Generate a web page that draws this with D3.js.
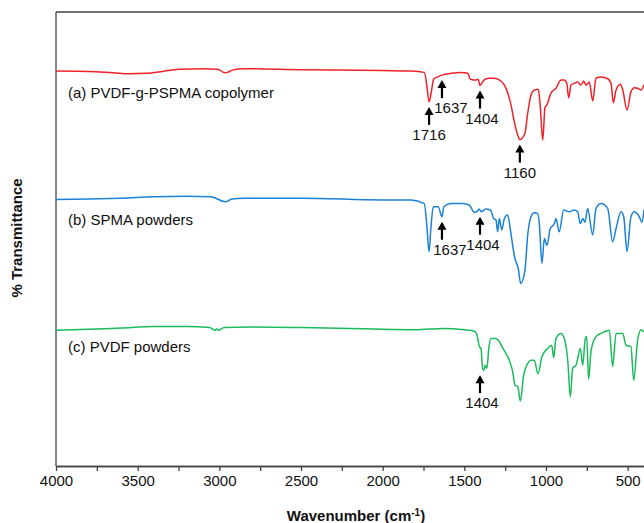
<!doctype html>
<html lang="en">
  <head>
    <meta charset="UTF-8" />
    <title>FTIR spectra</title>
    <script src="https://unpkg.com/d3@7.9.0/dist/d3.min.js"></script>
    <style>
      body {
        margin: 0;
        overflow: hidden;
        background: #fff;
        font-family: Arial, 'Liberation Sans', sans-serif;
      }
      .tick text {
        font-size: 15px;
        fill: #111;
      }
      .tick line,
      .domain {
        stroke: #444;
        stroke-width: 1.3px;
      }
      .axis-title {
        font-size: 15px;
        font-weight: bold;
        fill: #111;
      }
      .series-label,
      .peak-label {
        font-size: 15px;
        fill: #111;
      }
    </style>
  </head>
  <body>
    <svg width="644" height="523"></svg>

    <script>
      // x axis ticks (cm-1)
      const majorTicks = [4000, 3500, 3000, 2500, 2000, 1500, 1000, 500];
      const minorTicks = [3750, 3250, 2750, 2250, 1750, 1250, 750];

      const seriesNames = [
        '(a) PVDF-g-PSPMA copolymer',
        '(b) SPMA powders',
        '(c) PVDF powders',
      ];
      const seriesColors = ['#ee2229', '#1b82d6', '#1bbb5c'];
      // vertical stacking offsets (a.u.)
      const seriesOffsets = [57, 29, 0];

      // [wavenumber, transmittance a.u.]
      const pvdfGPspma = [
        [4000, 30.0], [3800, 29.9], [3650, 29.6], [3550, 29.4], [3450, 29.5],
        [3350, 29.9], [3250, 30.4], [3100, 30.5], [3010, 30.4], [2965, 29.6],
        [2950, 29.7], [2920, 30.2], [2850, 30.5], [2500, 30.3], [2000, 30.1],
        [1826, 30.0], [1745, 29.7], [1730, 26.9], [1716, 23.2], [1702, 25.4],
        [1688, 28.2], [1665, 28.7], [1637, 29.1], [1582, 29.5], [1520, 29.7],
        [1479, 29.5], [1463, 28.2], [1429, 28.0], [1415, 28.2], [1404, 26.8],
        [1380, 28.0], [1353, 28.4], [1317, 28.4], [1276, 27.8], [1245, 26.2],
        [1214, 22.5], [1194, 18.8], [1173, 15.9], [1160, 14.9], [1129, 16.3],
        [1112, 20.7], [1092, 24.7], [1072, 25.8], [1047, 26.0], [1035, 22.1],
        [1020, 14.8], [1006, 22.0], [994, 22.6], [969, 25.2], [939, 26.2],
        [908, 28.0], [888, 28.0], [873, 27.3], [861, 24.1], [847, 26.9],
        [827, 27.3], [806, 27.6], [786, 26.9], [769, 27.8], [755, 26.9],
        [735, 27.6], [714, 23.4], [694, 28.4], [663, 28.7], [622, 28.3],
        [602, 27.3], [588, 23.0], [571, 25.8], [545, 27.1], [530, 25.8],
        [504, 21.4], [480, 25.4], [459, 26.3], [439, 26.2], [418, 25.8],
        [400, 27.0],
      ];
      const spmaPowders = [
        [4000, 29.7], [3800, 29.8], [3600, 30.0], [3400, 30.3], [3200, 30.4],
        [3050, 30.3], [2965, 29.2], [2950, 29.3], [2925, 29.8], [2850, 30.0],
        [2500, 30.0], [2000, 29.6], [1826, 29.6], [1745, 28.8], [1730, 24.1],
        [1716, 18.2], [1705, 23.3], [1690, 28.1], [1660, 28.1], [1637, 25.9],
        [1625, 28.1], [1582, 28.8], [1520, 28.8], [1470, 28.5], [1440, 26.9],
        [1420, 27.1], [1410, 27.6], [1395, 27.0], [1370, 27.6], [1340, 27.4],
        [1320, 25.5], [1306, 25.2], [1296, 22.6], [1286, 25.5], [1271, 23.0],
        [1255, 25.5], [1235, 26.3], [1219, 23.3], [1204, 19.6], [1190, 16.7],
        [1170, 14.5], [1155, 11.2], [1129, 14.1], [1112, 21.9], [1092, 25.9],
        [1072, 26.8], [1051, 26.6], [1041, 24.4], [1025, 15.6], [1010, 21.1],
        [994, 19.6], [974, 23.3], [949, 24.4], [939, 25.5], [919, 22.6],
        [892, 27.4], [857, 27.0], [827, 27.4], [806, 27.0], [790, 24.4],
        [775, 25.5], [761, 24.7], [745, 27.7], [714, 21.9], [694, 27.7],
        [663, 28.8], [622, 27.7], [592, 20.4], [571, 23.3], [541, 27.0],
        [524, 25.9], [504, 18.2], [480, 25.9], [459, 27.0], [429, 25.9],
        [412, 24.7], [400, 27.4],
      ];
      const pvdfPowders = [
        [4000, 29.9], [3800, 30.1], [3600, 30.4], [3400, 30.7], [3200, 30.7],
        [3060, 30.5], [3025, 29.9], [3015, 30.2], [3005, 29.9], [2970, 30.5],
        [2800, 30.6], [2500, 30.5], [2200, 30.3], [2000, 30.1], [1800, 30.0],
        [1623, 30.3], [1500, 30.0], [1439, 29.7], [1422, 28.8], [1408, 26.3],
        [1398, 25.9], [1388, 21.5], [1380, 21.1], [1372, 22.2], [1362, 21.5],
        [1350, 26.0], [1337, 28.1], [1306, 28.1], [1286, 27.4], [1265, 26.0],
        [1245, 24.8], [1225, 23.3], [1204, 20.8], [1190, 17.8], [1173, 17.5],
        [1157, 14.3], [1137, 20.0], [1112, 22.6], [1092, 23.3], [1072, 23.3],
        [1049, 20.3], [1025, 24.1], [990, 25.9], [965, 26.6], [953, 23.9],
        [939, 28.1], [908, 29.2], [888, 28.1], [867, 23.3], [851, 15.2],
        [837, 21.5], [816, 22.2], [790, 25.9], [775, 22.2], [761, 27.7],
        [751, 28.5], [739, 19.1], [724, 25.4], [694, 28.5], [663, 29.2],
        [612, 29.9], [592, 21.9], [571, 29.2], [530, 29.2], [510, 26.6],
        [480, 26.3], [463, 18.9], [439, 27.7], [418, 30.0], [400, 29.5],
      ];
      const spectra = [pvdfGPspma, spmaPowders, pvdfPowders];

      // peak annotations: series index, wavenumber
      const peakSeries = [0, 0, 0, 0, 1, 1, 2];
      const peakWavenumbers = [1716, 1637, 1404, 1160, 1637, 1404, 1404];

      // layout
      const peakLabelDx = [0, 9, 2, 0, 8, 3, 2];
      const seriesLabelDy = [27, 25, 22];

      const svg = d3.select('svg');
      const plotLeft = 56,
        plotRight = 644,
        plotTop = 12,
        plotBottom = 466;

      const x = d3
        .scaleLinear()
        .domain([4000, 400])
        .range([plotLeft, plotRight]);
      const y = d3
        .scaleLinear()
        .domain([0, 100])
        .range([plotBottom, plotTop]);

      // frame
      svg
        .append('line')
        .attr('x1', x(4000))
        .attr('x2', plotRight)
        .attr('y1', plotTop)
        .attr('y2', plotTop)
        .attr('stroke', '#444')
        .attr('stroke-width', 1.3);
      svg
        .append('line')
        .attr('x1', x(4000))
        .attr('x2', x(4000))
        .attr('y1', plotTop)
        .attr('y2', plotBottom)
        .attr('stroke', '#444')
        .attr('stroke-width', 1.3);

      svg
        .append('g')
        .attr('transform', `translate(0,${plotBottom})`)
        .call(
          d3
            .axisBottom(x)
            .tickValues(minorTicks)
            .tickSize(5)
            .tickSizeOuter(0)
            .tickFormat(''),
        );
      svg
        .append('g')
        .attr('transform', `translate(0,${plotBottom})`)
        .call(
          d3
            .axisBottom(x)
            .tickValues(majorTicks)
            .tickSize(5)
            .tickPadding(4)
            .tickSizeOuter(0)
            .tickFormat(d3.format('d')),
        )
        .call((g) => g.attr('font-family', null).attr('font-size', null));

      // spectra
      const line = d3
        .line()
        .x((d) => x(d[0]))
        .y((d) => y(d[1]))
        .curve(d3.curveMonotoneX);

      spectra.forEach((data, i) => {
        const shifted = data.map((d) => [d[0], d[1] + seriesOffsets[i]]);
        svg
          .append('path')
          .datum(shifted)
          .attr('fill', 'none')
          .attr('stroke', seriesColors[i])
          .attr('stroke-width', 1.5)
          .attr('stroke-linejoin', 'round')
          .attr('d', line);

        svg
          .append('text')
          .attr('class', 'series-label')
          .attr('x', x(4000) + 12)
          .attr('y', y(data[0][1] + seriesOffsets[i]) + seriesLabelDy[i])
          .text(seriesNames[i]);
      });

      // arrows
      peakWavenumbers.forEach((wn, k) => {
        const s = peakSeries[k];
        const near = spectra[s].filter((d) => Math.abs(d[0] - wn) <= 25);
        const vmin = d3.min(near, (d) => d[1]) + seriesOffsets[s];
        const tip = y(vmin) + 5;
        const tail = tip + 18;
        const cx = x(wn);
        svg
          .append('line')
          .attr('x1', cx)
          .attr('x2', cx)
          .attr('y1', tip + 6)
          .attr('y2', tail)
          .attr('stroke', '#000')
          .attr('stroke-width', 2.2);
        svg
          .append('path')
          .attr(
            'd',
            `M${cx},${tip}L${cx - 4.5},${tip + 8}L${cx + 4.5},${tip + 8}Z`,
          )
          .attr('fill', '#000');
        svg
          .append('text')
          .attr('class', 'peak-label')
          .attr('x', cx + peakLabelDx[k])
          .attr('y', tail + 15)
          .attr('text-anchor', 'middle')
          .text(wn);
      });

      // axis titles
      const xt = svg
        .append('text')
        .attr('class', 'axis-title')
        .attr('x', 356)
        .attr('y', 521)
        .attr('text-anchor', 'middle');
      xt.append('tspan').text('Wavenumber (cm');
      xt.append('tspan')
        .attr('dy', -5)
        .attr('font-size', '10px')
        .text('-1');
      xt.append('tspan').attr('dy', 5).text(')');

      svg
        .append('text')
        .attr('class', 'axis-title')
        .attr('transform', 'rotate(-90)')
        .attr('x', -238)
        .attr('y', 22)
        .attr('text-anchor', 'middle')
        .text('% Transmittance');
    </script>
  </body>
</html>
